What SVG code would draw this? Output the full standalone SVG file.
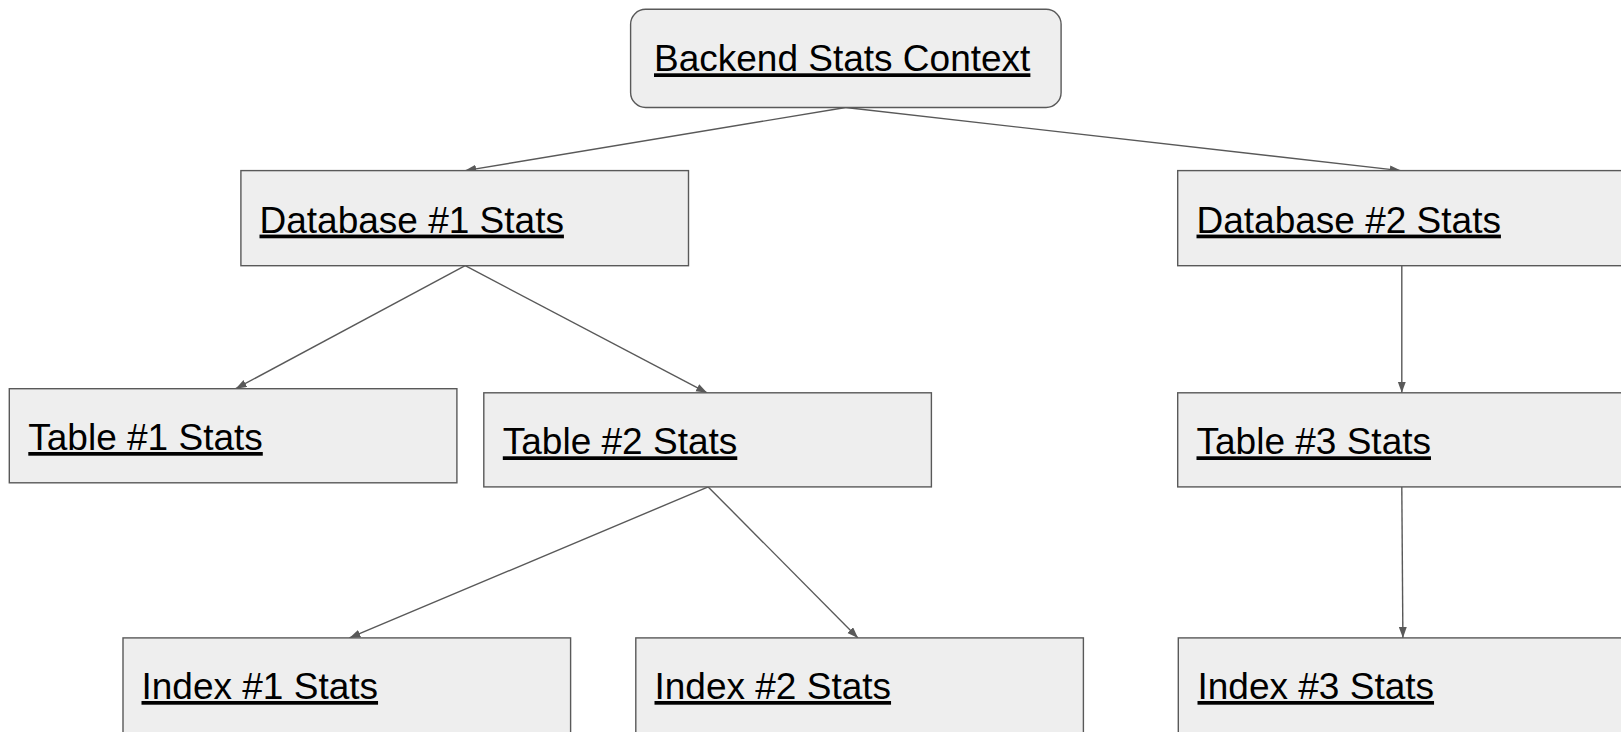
<svg xmlns="http://www.w3.org/2000/svg" width="1621" height="732" viewBox="0 0 1621 732">
<style>
.box{fill:#eeeeee;stroke:#595959;stroke-width:1.4}
.lbl{font-family:"Liberation Sans",Arial,sans-serif;font-size:37px;fill:#000;text-decoration:underline}
.conn{stroke:#595959;stroke-width:1.4;fill:none;marker-end:url(#arr)}
</style>
<defs>
<marker id="arr" markerUnits="userSpaceOnUse" markerWidth="12" markerHeight="9" refX="11" refY="4" orient="auto">
<path d="M0,0 L11,4 L0,8 z" fill="#595959"/>
</marker>
</defs>
<rect width="1621" height="732" fill="#ffffff"/>
<g id="connectors">
<line class="conn" x1="845.7" y1="107.5" x2="465.2" y2="170.6"/>
<line class="conn" x1="845.7" y1="107.5" x2="1400.8" y2="170.6"/>
<line class="conn" x1="465.2" y1="265.7" x2="235.7" y2="388.7"/>
<line class="conn" x1="465.2" y1="265.7" x2="707.1" y2="392.8"/>
<line class="conn" x1="708.2" y1="486.9" x2="349.4" y2="637.9"/>
<line class="conn" x1="708.2" y1="486.9" x2="858" y2="637.9"/>
<line class="conn" x1="1401.8" y1="265.7" x2="1401.8" y2="392.8"/>
<line class="conn" x1="1401.8" y1="486.9" x2="1402.9" y2="637.9"/>
</g>
<g id="backend">
<rect class="box" x="630.6" y="9.3" width="430.5" height="98.2" rx="15" ry="15"/>
<text class="lbl" x="654" y="71.3">Backend Stats Context</text>
</g>
<g id="db1">
<rect class="box" x="240.9" y="170.6" width="447.6" height="95.1"/>
<text class="lbl" x="259.5" y="232.6">Database #1 Stats</text>
</g>
<g id="db2">
<rect class="box" x="1177.7" y="170.6" width="447.6" height="95.1"/>
<text class="lbl" x="1196.5" y="232.6">Database #2 Stats</text>
</g>
<g id="table1">
<rect class="box" x="9.3" y="388.7" width="447.6" height="94.1"/>
<text class="lbl" x="28.3" y="450">Table #1 Stats</text>
</g>
<g id="table2">
<rect class="box" x="483.8" y="392.8" width="447.6" height="94.1"/>
<text class="lbl" x="502.8" y="454.3">Table #2 Stats</text>
</g>
<g id="table3">
<rect class="box" x="1177.7" y="392.8" width="447.6" height="94.1"/>
<text class="lbl" x="1196.5" y="454.3">Table #3 Stats</text>
</g>
<g id="index1">
<rect class="box" x="123" y="637.9" width="447.6" height="96"/>
<text class="lbl" x="141.5" y="699">Index #1 Stats</text>
</g>
<g id="index2">
<rect class="box" x="635.8" y="637.9" width="447.6" height="96"/>
<text class="lbl" x="654.5" y="699">Index #2 Stats</text>
</g>
<g id="index3">
<rect class="box" x="1178.3" y="637.9" width="447.6" height="96"/>
<text class="lbl" x="1197.5" y="699">Index #3 Stats</text>
</g>
</svg>
